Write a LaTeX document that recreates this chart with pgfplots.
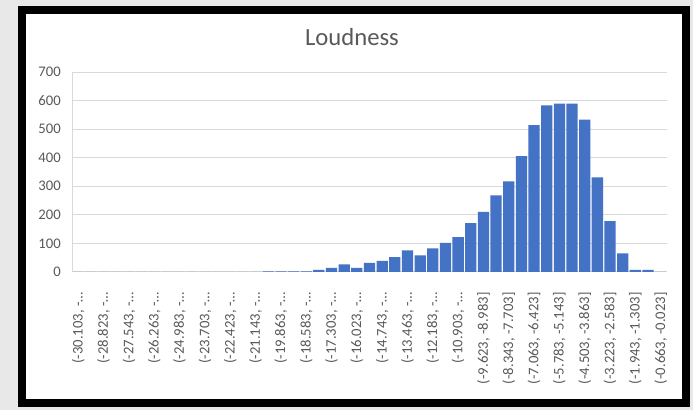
\documentclass[border=0pt]{standalone}
\usepackage{fontspec}
\setmainfont{Carlito}
\usepackage{pgfplots}
\usepackage{pgfplotstable}
\pgfplotsset{compat=1.18}
\definecolor{barblue}{HTML}{4472C4}
\definecolor{txtgray}{HTML}{595959}
\definecolor{gridgray}{HTML}{D9D9D9}
\definecolor{bggray}{HTML}{E8E8E8}

% histogram counts, bins of width 0.64 starting at -30.103
\pgfplotstableread{
bin count
0 0
1 0
2 0
3 0
4 0
5 0
6 0
7 0
8 0
9 0
10 0
11 0
12 0
13 0
14 0
15 2
16 2
17 2
18 2
19 7
20 14
21 27
22 14
23 32
24 39
25 52
26 76
27 58
28 83
29 102
30 122
31 171
32 210
33 268
34 317
35 406
36 514
37 583
38 589
39 589
40 533
41 331
42 178
43 65
44 7
45 7
46 0
}\loudness

\begin{document}
\begin{tikzpicture}[x=0.75pt,y=0.75pt]
\fill[bggray] (0,0) rectangle (693,410);
\fill[black] (18,3) rectangle (690,404);
\fill[white] (26,11) rectangle (682,396);
\node[anchor=base, text=txtgray, font=\fontsize{18.5}{21}\selectfont] at (352,364) {Loudness};
\begin{axis}[
  at={(54pt,103.5pt)}, anchor=south west,
  width=446.25pt, height=150pt, scale only axis,
  xmin=-0.5, xmax=46.5,
  ymin=0, ymax=700,
  ytick={0,100,...,700},
  xtick={0,2,...,46},
  xticklabels={
    {(-30.103, -…},{(-28.823, -…},{(-27.543, -…},{(-26.263, -…},
    {(-24.983, -…},{(-23.703, -…},{(-22.423, -…},{(-21.143, -…},
    {(-19.863, -…},{(-18.583, -…},{(-17.303, -…},{(-16.023, -…},
    {(-14.743, -…},{(-13.463, -…},{(-12.183, -…},{(-10.903, -…},
    {(-9.623, -8.983]},{(-8.343, -7.703]},{(-7.063, -6.423]},{(-5.783, -5.143]},
    {(-4.503, -3.863]},{(-3.223, -2.583]},{(-1.943, -1.303]},{(-0.663, -0.023]}
  },
  major tick length=0pt,
  ymajorgrids,
  grid style={gridgray, line width=0.75pt},
  axis x line*=bottom, axis y line*=left,
  axis line style={gridgray, line width=0.75pt, -},
  ticklabel style={font=\fontsize{11}{13}\selectfont, text=txtgray, inner sep=0pt},
  /pgf/number format/assume math mode=true,
  yticklabel shift=8.25pt,
  xticklabel style={rotate=90, anchor=east},
  xticklabel shift=15pt,
]
\addplot[ybar, bar width=0.89, fill=barblue, draw=none] table[x=bin, y=count] {\loudness};
\end{axis}
\end{tikzpicture}
\end{document}
